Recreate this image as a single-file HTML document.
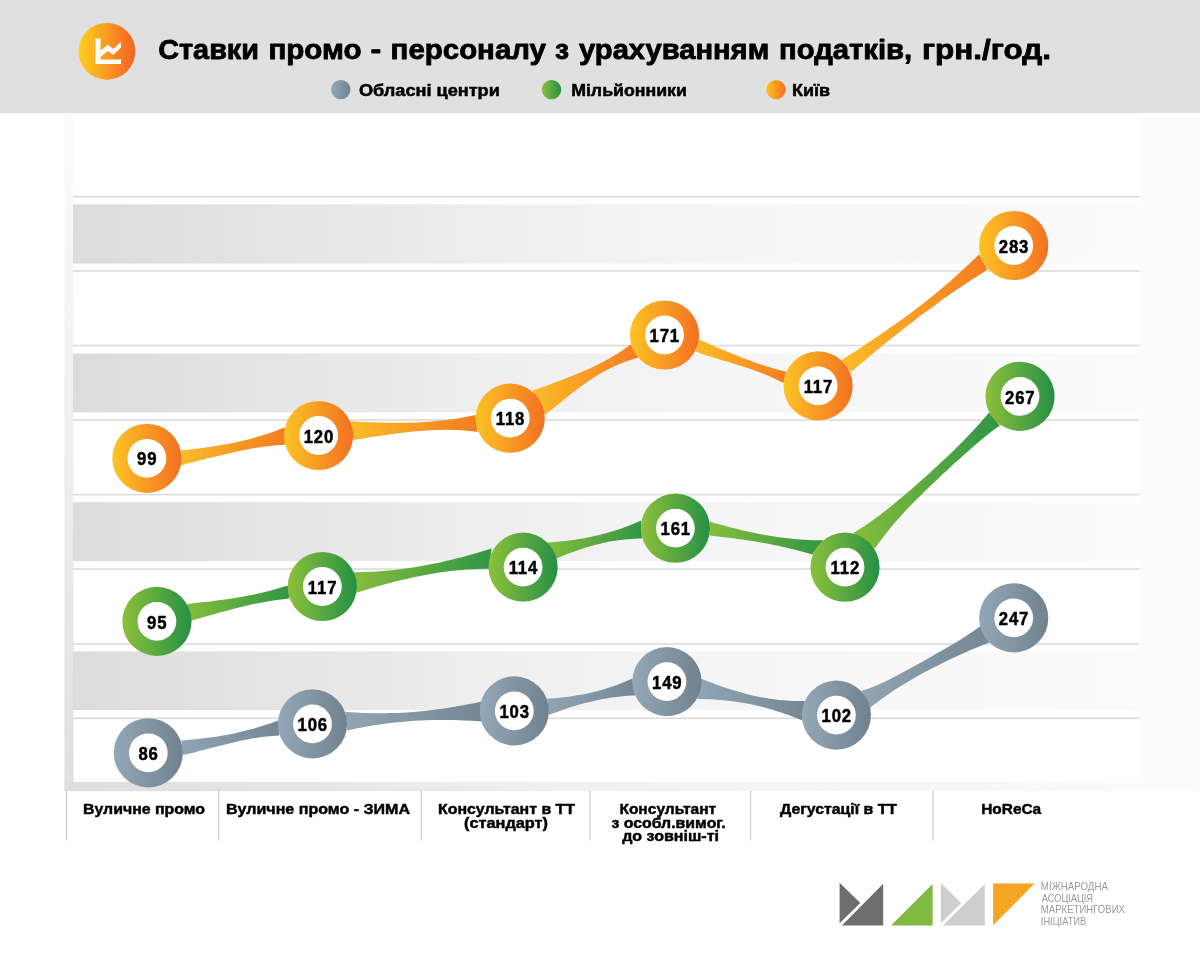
<!DOCTYPE html>
<html lang="uk"><head><meta charset="utf-8"><title>Ставки промо-персоналу</title>
<style>html,body{margin:0;padding:0;background:#fff;overflow:hidden}svg{display:block}text{font-family:"Liberation Sans",sans-serif}</style></head><body>
<svg width="1200" height="972" viewBox="0 0 1200 972">
<defs>
<linearGradient id="band" x1="0" x2="1" y1="0" y2="0"><stop offset="0" stop-color="#dcdcdc"/><stop offset="0.2" stop-color="#e5e5e5"/><stop offset="0.4" stop-color="#efefef"/><stop offset="0.6" stop-color="#f5f5f5"/><stop offset="0.8" stop-color="#f8f8f8"/><stop offset="1" stop-color="#fbfbfb"/></linearGradient>
<linearGradient id="floor" x1="0" x2="1" y1="0" y2="0"><stop offset="0" stop-color="#dedede"/><stop offset="0.2" stop-color="#e6e6e6"/><stop offset="0.4" stop-color="#efefef"/><stop offset="0.6" stop-color="#f5f5f5"/><stop offset="1" stop-color="#fbfbfb"/></linearGradient>
<linearGradient id="lstrip" x1="0" x2="0" y1="0" y2="1"><stop offset="0" stop-color="#fcfcfc"/><stop offset="0.5" stop-color="#efefef"/><stop offset="1" stop-color="#dfdfdf"/></linearGradient>
<linearGradient id="icon" x1="0" x2="1" y1="0" y2="0"><stop offset="0" stop-color="#ffcf1f"/><stop offset="1" stop-color="#f26322"/></linearGradient>
<linearGradient id="co" x1="0" x2="1" y1="0" y2="0"><stop offset="0" stop-color="#fcc325"/><stop offset="1" stop-color="#f37021"/></linearGradient>
<linearGradient id="ro" x1="0" x2="1" y1="0" y2="0"><stop offset="0" stop-color="#fbbc28"/><stop offset="1" stop-color="#f47c20"/></linearGradient>
<linearGradient id="cg" x1="0" x2="1" y1="0" y2="0"><stop offset="0" stop-color="#8dc03b"/><stop offset="1" stop-color="#259045"/></linearGradient>
<linearGradient id="rg" x1="0" x2="1" y1="0" y2="0"><stop offset="0" stop-color="#86bd3c"/><stop offset="1" stop-color="#2f9645"/></linearGradient>
<linearGradient id="cy" x1="0" x2="1" y1="0" y2="0"><stop offset="0" stop-color="#93a7b6"/><stop offset="1" stop-color="#71828e"/></linearGradient>
<linearGradient id="ry" x1="0" x2="1" y1="0" y2="0"><stop offset="0" stop-color="#90a4b3"/><stop offset="1" stop-color="#758793"/></linearGradient>
</defs>
<rect x="0" y="0" width="1200" height="972" fill="#ffffff"/>
<rect x="0" y="0" width="1200" height="113" fill="#e0e0e0"/>
<rect x="1139.5" y="117" width="60.5" height="674" fill="#fbfbfb"/>
<rect x="64.5" y="113" width="9" height="678" fill="url(#lstrip)"/>
<rect x="73.0" y="204.3" width="1066.5" height="59.3" fill="url(#band)"/>
<rect x="73.0" y="353.5" width="1066.5" height="58.8" fill="url(#band)"/>
<rect x="73.0" y="502.2" width="1066.5" height="58.8" fill="url(#band)"/>
<rect x="73.0" y="651.4" width="1066.5" height="58.6" fill="url(#band)"/>
<rect x="73.0" y="196.00" width="1066.5" height="1.5" fill="#d9d9d9"/>
<rect x="73.0" y="270.25" width="1066.5" height="1.5" fill="#d9d9d9"/>
<rect x="73.0" y="344.75" width="1066.5" height="1.5" fill="#d9d9d9"/>
<rect x="73.0" y="419.25" width="1066.5" height="1.5" fill="#d9d9d9"/>
<rect x="73.0" y="493.85" width="1066.5" height="1.5" fill="#d9d9d9"/>
<rect x="73.0" y="568.25" width="1066.5" height="1.5" fill="#d9d9d9"/>
<rect x="73.0" y="643.25" width="1066.5" height="1.5" fill="#d9d9d9"/>
<rect x="73.0" y="717.55" width="1066.5" height="1.5" fill="#d9d9d9"/>
<rect x="64.5" y="782" width="1135.5" height="9.25" fill="url(#floor)"/>
<rect x="66.0" y="791" width="1" height="49.5" fill="#c6c6c6"/>
<rect x="218.25" y="791" width="1" height="49.5" fill="#c6c6c6"/>
<rect x="420.75" y="791" width="1" height="49.5" fill="#c6c6c6"/>
<rect x="589.5" y="791" width="1" height="49.5" fill="#c6c6c6"/>
<rect x="750.25" y="791" width="1" height="49.5" fill="#c6c6c6"/>
<rect x="932.5" y="791" width="1" height="49.5" fill="#c6c6c6"/>
<g fill="url(#ry)">
<path d="M181.4,740.5L185.4,740.2L189.5,739.8L193.5,739.5L197.6,739.1L201.6,738.6L205.6,738.1L209.7,737.6L213.7,737.0L217.7,736.4L221.8,735.7L225.8,735.0L229.9,734.2L233.9,733.4L237.9,732.5L242.0,731.6L246.0,730.6L250.0,729.5L254.1,728.4L258.1,727.3L262.1,726.0L266.2,724.8L270.2,723.4L274.3,722.0L278.3,720.5L279.4,735.6L275.4,735.8L271.4,736.0L267.3,736.4L263.3,736.8L259.3,737.4L255.3,738.0L251.3,738.6L247.3,739.4L243.2,740.2L239.2,741.0L235.2,741.9L231.2,742.9L227.2,743.9L223.2,744.9L219.1,745.9L215.1,746.9L211.1,748.0L207.1,749.0L203.1,750.1L199.1,751.1L195.1,752.2L191.0,753.2L187.0,754.2L183.0,755.1Z"/>
<path d="M345.3,711.7L351.0,712.2L356.6,712.6L362.3,712.9L367.9,713.1L373.6,713.2L379.2,713.3L384.9,713.3L390.5,713.1L396.2,713.0L401.8,712.7L407.5,712.4L413.1,711.9L418.8,711.5L424.5,710.9L430.1,710.3L435.8,709.6L441.4,708.8L447.1,708.0L452.7,707.1L458.4,706.1L464.0,705.1L469.7,704.0L475.3,702.9L481.0,701.7L481.6,721.6L476.0,721.1L470.4,720.7L464.8,720.4L459.2,720.2L453.6,720.0L448.0,719.9L442.4,719.9L436.8,719.9L431.2,720.0L425.6,720.2L420.0,720.4L414.5,720.8L408.9,721.2L403.3,721.7L397.7,722.2L392.1,722.8L386.5,723.5L380.9,724.3L375.3,725.1L369.7,726.0L364.1,727.0L358.5,728.1L352.9,729.2L347.3,730.4Z"/>
<path d="M547.0,698.8L550.6,698.5L554.1,698.3L557.7,697.9L561.2,697.6L564.8,697.1L568.4,696.7L571.9,696.2L575.5,695.6L579.1,695.0L582.6,694.4L586.2,693.7L589.8,692.9L593.3,692.1L596.9,691.2L600.4,690.2L604.0,689.2L607.6,688.1L611.1,687.0L614.7,685.7L618.2,684.4L621.8,683.1L625.4,681.6L628.9,680.1L632.5,678.5L635.0,695.5L631.4,695.6L627.8,695.8L624.2,696.1L620.7,696.5L617.1,696.9L613.5,697.3L609.9,697.8L606.3,698.4L602.8,699.1L599.2,699.8L595.6,700.5L592.0,701.4L588.4,702.2L584.8,703.1L581.2,704.1L577.7,705.1L574.1,706.2L570.5,707.3L566.9,708.5L563.3,709.7L559.8,711.0L556.2,712.3L552.6,713.6L549.0,715.0Z"/>
<path d="M700.8,678.6L705.1,680.3L709.4,682.0L713.8,683.6L718.1,685.2L722.4,686.7L726.8,688.2L731.1,689.5L735.4,690.8L739.7,692.1L744.0,693.3L748.4,694.4L752.7,695.4L757.0,696.4L761.4,697.2L765.7,698.0L770.0,698.7L774.3,699.3L778.6,699.9L783.0,700.3L787.3,700.6L791.6,700.9L796.0,701.0L800.3,701.1L804.6,701.0L802.3,720.6L797.9,718.8L793.5,717.0L789.2,715.3L784.8,713.8L780.4,712.3L776.0,710.9L771.7,709.5L767.3,708.3L762.9,707.1L758.5,706.1L754.2,705.1L749.8,704.1L745.4,703.3L741.0,702.6L736.7,701.9L732.3,701.3L727.9,700.7L723.5,700.3L719.2,699.9L714.8,699.6L710.4,699.3L706.0,699.2L701.7,699.0L697.3,699.0Z"/>
<path d="M861.7,690.8L866.6,689.3L871.6,687.5L876.5,685.5L881.4,683.3L886.3,680.9L891.3,678.5L896.2,675.9L901.1,673.3L906.1,670.6L911.0,667.9L915.9,665.2L920.9,662.4L925.8,659.7L930.7,656.9L935.6,654.1L940.6,651.3L945.5,648.5L950.4,645.6L955.4,642.7L960.3,639.7L965.2,636.5L970.1,633.3L975.1,629.9L980.0,626.2L989.2,642.5L984.2,644.4L979.3,646.4L974.4,648.5L969.4,650.6L964.5,652.7L959.5,654.9L954.6,657.2L949.6,659.5L944.6,661.9L939.7,664.4L934.8,666.9L929.8,669.5L924.9,672.1L919.9,674.8L915.0,677.6L910.0,680.5L905.0,683.4L900.1,686.5L895.1,689.6L890.2,692.9L885.2,696.4L880.3,699.9L875.4,703.6L870.4,707.5Z"/>
</g>
<circle cx="148.3" cy="752.8" r="34.6" fill="url(#cy)"/><circle cx="148.3" cy="752.8" r="19.4" fill="#fff"/>
<text transform="translate(148.6,759.9) scale(0.92,1)" text-anchor="middle" font-size="18.2" font-weight="bold" letter-spacing="0.9" fill="#000" stroke="#000" stroke-width="0.5" stroke-linejoin="round">86</text>
<circle cx="312.5" cy="723.9" r="34.6" fill="url(#cy)"/><circle cx="312.5" cy="723.9" r="19.4" fill="#fff"/>
<text transform="translate(312.8,731.0) scale(0.92,1)" text-anchor="middle" font-size="18.2" font-weight="bold" letter-spacing="0.9" fill="#000" stroke="#000" stroke-width="0.5" stroke-linejoin="round">106</text>
<circle cx="514.3" cy="710.9" r="34.6" fill="url(#cy)"/><circle cx="514.3" cy="710.9" r="19.4" fill="#fff"/>
<text transform="translate(514.6,718.0) scale(0.92,1)" text-anchor="middle" font-size="18.2" font-weight="bold" letter-spacing="0.9" fill="#000" stroke="#000" stroke-width="0.5" stroke-linejoin="round">103</text>
<circle cx="666.9" cy="681.6" r="34.6" fill="url(#cy)"/><circle cx="666.9" cy="681.6" r="19.4" fill="#fff"/>
<text transform="translate(667.2,688.7) scale(0.92,1)" text-anchor="middle" font-size="18.2" font-weight="bold" letter-spacing="0.9" fill="#000" stroke="#000" stroke-width="0.5" stroke-linejoin="round">149</text>
<circle cx="836.4" cy="715.1" r="34.6" fill="url(#cy)"/><circle cx="836.4" cy="715.1" r="19.4" fill="#fff"/>
<text transform="translate(836.7,722.2) scale(0.92,1)" text-anchor="middle" font-size="18.2" font-weight="bold" letter-spacing="0.9" fill="#000" stroke="#000" stroke-width="0.5" stroke-linejoin="round">102</text>
<circle cx="1013.7" cy="617.9" r="34.6" fill="url(#cy)"/><circle cx="1013.7" cy="617.9" r="19.4" fill="#fff"/>
<text transform="translate(1014.0,625.0) scale(0.92,1)" text-anchor="middle" font-size="18.2" font-weight="bold" letter-spacing="0.9" fill="#000" stroke="#000" stroke-width="0.5" stroke-linejoin="round">247</text>
<g fill="url(#rg)">
<path d="M187.0,603.9L191.2,603.5L195.4,603.0L199.6,602.6L203.8,602.1L208.0,601.7L212.2,601.2L216.4,600.6L220.6,600.1L224.8,599.5L229.0,598.9L233.2,598.3L237.4,597.6L241.6,596.9L245.8,596.1L250.0,595.3L254.2,594.4L258.4,593.5L262.6,592.5L266.8,591.5L271.0,590.4L275.2,589.3L279.4,588.1L283.6,586.8L287.8,585.5L289.4,598.5L285.3,598.9L281.2,599.4L277.1,599.9L273.0,600.5L268.9,601.2L264.8,601.9L260.6,602.7L256.5,603.5L252.4,604.3L248.3,605.3L244.2,606.2L240.1,607.2L236.0,608.2L231.9,609.3L227.8,610.4L223.7,611.5L219.6,612.6L215.4,613.7L211.3,614.9L207.2,616.0L203.1,617.2L199.0,618.4L194.9,619.5L190.8,620.7Z"/>
<path d="M354.0,572.3L359.7,572.2L365.5,572.0L371.2,571.8L376.9,571.4L382.7,571.0L388.4,570.5L394.1,569.9L399.9,569.2L405.6,568.5L411.3,567.7L417.1,566.8L422.8,565.8L428.5,564.7L434.3,563.6L440.0,562.4L445.7,561.1L451.5,559.8L457.2,558.3L462.9,556.9L468.7,555.3L474.4,553.7L480.1,552.0L485.9,550.2L491.6,548.4L489.0,568.7L483.5,568.8L478.0,568.9L472.4,569.2L466.9,569.5L461.4,570.0L455.9,570.5L450.4,571.1L444.9,571.8L439.4,572.6L433.8,573.5L428.3,574.4L422.8,575.5L417.3,576.5L411.8,577.7L406.2,578.9L400.7,580.2L395.2,581.6L389.7,583.0L384.2,584.5L378.7,586.0L373.2,587.6L367.6,589.3L362.1,591.0L356.6,592.7Z"/>
<path d="M547.5,542.5L551.4,542.2L555.3,541.9L559.2,541.6L563.1,541.2L567.0,540.7L570.9,540.3L574.8,539.7L578.7,539.1L582.6,538.5L586.5,537.7L590.4,537.0L594.2,536.1L598.1,535.2L602.0,534.3L605.9,533.2L609.8,532.1L613.7,530.9L617.6,529.7L621.5,528.4L625.4,526.9L629.3,525.5L633.2,523.9L637.1,522.2L641.0,520.5L642.0,538.5L638.4,538.6L634.9,538.7L631.3,538.9L627.8,539.2L624.2,539.5L620.6,539.9L617.1,540.4L613.5,541.0L609.9,541.6L606.4,542.3L602.8,543.1L599.2,543.9L595.7,544.8L592.1,545.8L588.6,546.8L585.0,547.8L581.4,549.0L577.9,550.2L574.3,551.4L570.8,552.7L567.2,554.1L563.6,555.5L560.1,557.0L556.5,558.5Z"/>
<path d="M709.6,521.6L714.3,523.0L719.1,524.3L723.8,525.6L728.6,526.9L733.3,528.1L738.0,529.3L742.8,530.4L747.5,531.5L752.3,532.5L757.0,533.5L761.8,534.4L766.5,535.3L771.2,536.1L776.0,536.8L780.7,537.5L785.5,538.1L790.2,538.6L795.0,539.1L799.7,539.5L804.4,539.8L809.2,540.1L813.9,540.2L818.7,540.3L823.4,540.3L812.3,554.6L808.0,553.3L803.7,552.1L799.5,550.9L795.2,549.8L790.9,548.7L786.6,547.7L782.3,546.7L778.1,545.8L773.8,544.9L769.5,544.1L765.2,543.3L761.0,542.5L756.7,541.8L752.4,541.1L748.1,540.4L743.8,539.8L739.6,539.2L735.3,538.6L731.0,538.0L726.7,537.5L722.4,537.0L718.2,536.5L713.9,536.0L709.6,535.6Z"/>
<path d="M853.3,532.9L859.0,529.6L864.6,525.9L870.3,522.0L875.9,518.0L881.6,513.7L887.3,509.3L892.9,504.7L898.6,500.0L904.3,495.3L909.9,490.4L915.6,485.5L921.2,480.5L926.9,475.4L932.6,470.3L938.2,465.0L943.9,459.7L949.6,454.4L955.2,448.9L960.9,443.2L966.6,437.5L972.2,431.6L977.9,425.4L983.5,419.1L989.2,412.5L1000.0,425.4L994.8,429.1L989.6,433.0L984.4,437.2L979.2,441.5L974.0,446.0L968.8,450.5L963.5,455.2L958.3,459.9L953.1,464.6L947.9,469.4L942.7,474.3L937.5,479.2L932.3,484.1L927.1,489.1L921.9,494.2L916.7,499.3L911.5,504.6L906.2,510.1L901.0,515.7L895.8,521.6L890.6,527.7L885.4,534.2L880.2,541.0L875.0,548.3Z"/>
</g>
<circle cx="156.9" cy="621.4" r="34.6" fill="url(#cg)"/><circle cx="156.9" cy="621.4" r="19.4" fill="#fff"/>
<text transform="translate(157.2,628.5) scale(0.92,1)" text-anchor="middle" font-size="18.2" font-weight="bold" letter-spacing="0.9" fill="#000" stroke="#000" stroke-width="0.5" stroke-linejoin="round">95</text>
<circle cx="322.3" cy="586.5" r="34.6" fill="url(#cg)"/><circle cx="322.3" cy="586.5" r="19.4" fill="#fff"/>
<text transform="translate(322.6,593.6) scale(0.92,1)" text-anchor="middle" font-size="18.2" font-weight="bold" letter-spacing="0.9" fill="#000" stroke="#000" stroke-width="0.5" stroke-linejoin="round">117</text>
<circle cx="523.1" cy="567.1" r="34.6" fill="url(#cg)"/><circle cx="523.1" cy="567.1" r="19.4" fill="#fff"/>
<text transform="translate(523.4,574.2) scale(0.92,1)" text-anchor="middle" font-size="18.2" font-weight="bold" letter-spacing="0.9" fill="#000" stroke="#000" stroke-width="0.5" stroke-linejoin="round">114</text>
<circle cx="675.4" cy="528.2" r="34.6" fill="url(#cg)"/><circle cx="675.4" cy="528.2" r="19.4" fill="#fff"/>
<text transform="translate(675.7,535.3) scale(0.92,1)" text-anchor="middle" font-size="18.2" font-weight="bold" letter-spacing="0.9" fill="#000" stroke="#000" stroke-width="0.5" stroke-linejoin="round">161</text>
<circle cx="845.0" cy="567.2" r="34.6" fill="url(#cg)"/><circle cx="845.0" cy="567.2" r="19.4" fill="#fff"/>
<text transform="translate(845.3,574.3) scale(0.92,1)" text-anchor="middle" font-size="18.2" font-weight="bold" letter-spacing="0.9" fill="#000" stroke="#000" stroke-width="0.5" stroke-linejoin="round">112</text>
<circle cx="1020.0" cy="396.4" r="34.6" fill="url(#cg)"/><circle cx="1020.0" cy="396.4" r="19.4" fill="#fff"/>
<text transform="translate(1020.3,403.5) scale(0.92,1)" text-anchor="middle" font-size="18.2" font-weight="bold" letter-spacing="0.9" fill="#000" stroke="#000" stroke-width="0.5" stroke-linejoin="round">267</text>
<g fill="url(#ro)">
<path d="M180.8,450.6L185.1,450.1L189.5,449.6L193.8,449.0L198.1,448.5L202.5,447.9L206.8,447.3L211.1,446.7L215.5,446.0L219.8,445.3L224.1,444.5L228.5,443.7L232.8,442.9L237.1,442.0L241.5,441.0L245.8,440.0L250.1,438.9L254.5,437.8L258.8,436.5L263.1,435.2L267.5,433.8L271.8,432.3L276.1,430.7L280.5,429.1L284.8,427.3L284.8,444.7L280.5,445.0L276.1,445.3L271.8,445.7L267.5,446.2L263.1,446.8L258.8,447.4L254.5,448.1L250.1,448.9L245.8,449.7L241.5,450.5L237.1,451.4L232.8,452.4L228.5,453.4L224.1,454.4L219.8,455.4L215.5,456.4L211.1,457.5L206.8,458.6L202.5,459.7L198.1,460.8L193.8,462.0L189.5,463.1L185.1,464.2L180.8,465.3Z"/>
<path d="M350.6,421.0L355.8,421.4L361.0,421.7L366.2,422.0L371.4,422.2L376.6,422.4L381.9,422.6L387.1,422.7L392.3,422.8L397.5,422.8L402.7,422.8L407.9,422.7L413.1,422.6L418.3,422.4L423.5,422.1L428.7,421.7L433.9,421.3L439.1,420.8L444.4,420.3L449.6,419.6L454.8,418.9L460.0,418.0L465.2,417.1L470.4,416.1L475.6,415.0L477.5,431.9L472.3,431.3L467.1,430.7L461.9,430.3L456.8,430.1L451.6,429.9L446.4,429.8L441.2,429.9L436.0,430.0L430.9,430.2L425.7,430.5L420.5,430.9L415.3,431.3L410.1,431.8L404.9,432.4L399.8,433.0L394.6,433.7L389.4,434.4L384.2,435.2L379.0,435.9L373.8,436.7L368.7,437.5L363.5,438.4L358.3,439.2L353.1,440.0Z"/>
<path d="M532.1,390.8L536.2,389.3L540.3,387.8L544.4,386.4L548.5,384.9L552.7,383.3L556.8,381.8L560.9,380.3L565.0,378.7L569.1,377.1L573.2,375.5L577.3,373.8L581.5,372.1L585.6,370.3L589.7,368.5L593.8,366.6L597.9,364.6L602.0,362.5L606.1,360.3L610.2,358.0L614.3,355.6L618.5,353.0L622.6,350.2L626.7,347.3L630.8,344.2L638.3,357.5L634.4,358.7L630.5,359.9L626.6,361.3L622.7,362.7L618.8,364.3L614.9,366.0L611.0,367.9L607.1,369.8L603.2,371.9L599.3,374.2L595.4,376.6L591.5,379.1L587.5,381.7L583.6,384.5L579.7,387.3L575.8,390.3L571.9,393.3L568.0,396.4L564.1,399.6L560.2,402.7L556.3,405.9L552.4,409.0L548.5,412.0L544.6,415.0Z"/>
<path d="M699.0,339.3L702.6,341.0L706.3,342.6L709.9,344.3L713.5,345.9L717.2,347.5L720.8,349.0L724.4,350.6L728.1,352.1L731.7,353.6L735.3,355.1L739.0,356.5L742.6,357.9L746.2,359.3L749.9,360.6L753.5,361.9L757.1,363.2L760.8,364.4L764.4,365.6L768.0,366.7L771.7,367.8L775.3,368.9L778.9,369.9L782.6,370.9L786.2,371.8L783.5,383.1L779.8,381.2L776.2,379.4L772.5,377.7L768.9,376.1L765.2,374.5L761.5,373.1L757.9,371.7L754.2,370.3L750.6,369.1L746.9,367.8L743.3,366.6L739.6,365.5L735.9,364.3L732.3,363.2L728.6,362.1L725.0,361.0L721.3,359.9L717.7,358.8L714.0,357.7L710.3,356.6L706.7,355.4L703.0,354.2L699.4,353.0L695.7,351.7Z"/>
<path d="M841.7,360.0L847.4,356.3L853.2,352.6L858.9,348.9L864.6,345.1L870.3,341.3L876.1,337.5L881.8,333.6L887.5,329.6L893.3,325.6L899.0,321.5L904.7,317.4L910.5,313.2L916.2,308.8L921.9,304.4L927.6,299.9L933.4,295.3L939.1,290.6L944.8,285.8L950.6,280.9L956.3,275.8L962.0,270.6L967.7,265.3L973.5,259.8L979.2,254.2L987.5,269.6L981.8,273.2L976.1,276.9L970.4,280.6L964.7,284.4L959.0,288.2L953.3,292.1L947.6,296.1L941.9,300.1L936.2,304.2L930.5,308.4L924.8,312.6L919.1,316.8L913.5,321.2L907.8,325.5L902.1,330.0L896.4,334.5L890.7,339.0L885.0,343.6L879.3,348.3L873.6,353.0L867.9,357.7L862.2,362.5L856.5,367.3L850.8,372.1Z"/>
</g>
<circle cx="146.9" cy="458.3" r="34.6" fill="url(#co)"/><circle cx="146.9" cy="458.3" r="19.4" fill="#fff"/>
<text transform="translate(147.2,465.4) scale(0.92,1)" text-anchor="middle" font-size="18.2" font-weight="bold" letter-spacing="0.9" fill="#000" stroke="#000" stroke-width="0.5" stroke-linejoin="round">99</text>
<circle cx="318.6" cy="435.5" r="34.6" fill="url(#co)"/><circle cx="318.6" cy="435.5" r="19.4" fill="#fff"/>
<text transform="translate(318.9,442.6) scale(0.92,1)" text-anchor="middle" font-size="18.2" font-weight="bold" letter-spacing="0.9" fill="#000" stroke="#000" stroke-width="0.5" stroke-linejoin="round">120</text>
<circle cx="510.2" cy="418.2" r="34.6" fill="url(#co)"/><circle cx="510.2" cy="418.2" r="19.4" fill="#fff"/>
<text transform="translate(510.5,425.3) scale(0.92,1)" text-anchor="middle" font-size="18.2" font-weight="bold" letter-spacing="0.9" fill="#000" stroke="#000" stroke-width="0.5" stroke-linejoin="round">118</text>
<circle cx="664.5" cy="335.0" r="34.6" fill="url(#co)"/><circle cx="664.5" cy="335.0" r="19.4" fill="#fff"/>
<text transform="translate(664.8,342.1) scale(0.92,1)" text-anchor="middle" font-size="18.2" font-weight="bold" letter-spacing="0.9" fill="#000" stroke="#000" stroke-width="0.5" stroke-linejoin="round">171</text>
<circle cx="818.1" cy="385.9" r="34.6" fill="url(#co)"/><circle cx="818.1" cy="385.9" r="19.4" fill="#fff"/>
<text transform="translate(818.4,393.0) scale(0.92,1)" text-anchor="middle" font-size="18.2" font-weight="bold" letter-spacing="0.9" fill="#000" stroke="#000" stroke-width="0.5" stroke-linejoin="round">117</text>
<circle cx="1013.7" cy="245.5" r="34.6" fill="url(#co)"/><circle cx="1013.7" cy="245.5" r="19.4" fill="#fff"/>
<text transform="translate(1014.0,252.6) scale(0.92,1)" text-anchor="middle" font-size="18.2" font-weight="bold" letter-spacing="0.9" fill="#000" stroke="#000" stroke-width="0.5" stroke-linejoin="round">283</text>
<circle cx="106.9" cy="51.3" r="28.4" fill="url(#icon)"/>
<path d="M95.5,38.5H100.5V59.6H121.1V64H95.5Z" fill="#fff"/>
<path d="M100.5,50.5L107.8,44.7L113.2,49L120.9,42V47.8L113.2,54.7L107.8,50.9L100.5,57Z" fill="#fff"/>
<circle cx="340.8" cy="89.6" r="9.7" fill="url(#cy)"/>
<circle cx="551.5" cy="89.6" r="9.7" fill="url(#cg)"/>
<circle cx="776.0" cy="89.6" r="9.7" fill="url(#co)"/>
<text font-size="27.5" font-weight="bold" fill="#000" stroke="#000" stroke-width="0.8" stroke-linejoin="round"><tspan x="158.20" y="59" textLength="100.82" lengthAdjust="spacingAndGlyphs">Ставки</tspan> <tspan x="268.40" y="59" textLength="93.25" lengthAdjust="spacingAndGlyphs">промо</tspan> <tspan x="370.60" y="59" textLength="10.71" lengthAdjust="spacingAndGlyphs">-</tspan> <tspan x="390.60" y="59" textLength="155.40" lengthAdjust="spacingAndGlyphs">персоналу</tspan> <tspan x="555.00" y="59" textLength="14.04" lengthAdjust="spacingAndGlyphs">з</tspan> <tspan x="579.00" y="59" textLength="190.21" lengthAdjust="spacingAndGlyphs">урахуванням</tspan> <tspan x="779.00" y="59" textLength="133.24" lengthAdjust="spacingAndGlyphs">податків,</tspan> <tspan x="922.00" y="59" textLength="129.03" lengthAdjust="spacingAndGlyphs">грн./год.</tspan></text>
<text font-size="16" font-weight="bold" fill="#000" stroke="#000" stroke-width="0.5" stroke-linejoin="round"><tspan x="359.00" y="95.8" textLength="140.81" lengthAdjust="spacingAndGlyphs">Обласні центри</tspan></text>
<text font-size="16" font-weight="bold" fill="#000" stroke="#000" stroke-width="0.5" stroke-linejoin="round"><tspan x="571.20" y="95.8" textLength="115.61" lengthAdjust="spacingAndGlyphs">Мільйонники</tspan></text>
<text font-size="16" font-weight="bold" fill="#000" stroke="#000" stroke-width="0.5" stroke-linejoin="round"><tspan x="792.00" y="95.8" textLength="38.01" lengthAdjust="spacingAndGlyphs">Київ</tspan></text>
<text font-size="14.4" font-weight="bold" fill="#000" stroke="#000" stroke-width="0.45" stroke-linejoin="round"><tspan x="83.00" y="814" textLength="122.00" lengthAdjust="spacingAndGlyphs">Вуличне промо</tspan></text>
<text font-size="14.4" font-weight="bold" fill="#000" stroke="#000" stroke-width="0.45" stroke-linejoin="round"><tspan x="226.00" y="814" textLength="184.00" lengthAdjust="spacingAndGlyphs">Вуличне промо - ЗИМА</tspan></text>
<text font-size="14.4" font-weight="bold" fill="#000" stroke="#000" stroke-width="0.45" stroke-linejoin="round"><tspan x="438.00" y="814" textLength="137.00" lengthAdjust="spacingAndGlyphs">Консультант в ТТ</tspan> <tspan x="464.00" y="827.5" textLength="84.01" lengthAdjust="spacingAndGlyphs">(стандарт)</tspan></text>
<text font-size="14.4" font-weight="bold" fill="#000" stroke="#000" stroke-width="0.45" stroke-linejoin="round"><tspan x="619.40" y="814" textLength="96.80" lengthAdjust="spacingAndGlyphs">Консультант</tspan> <tspan x="611.40" y="827.5" textLength="114.40" lengthAdjust="spacingAndGlyphs">з особл.вимог.</tspan> <tspan x="622.20" y="840.5" textLength="96.80" lengthAdjust="spacingAndGlyphs">до зовніш-ті</tspan></text>
<text font-size="14.4" font-weight="bold" fill="#000" stroke="#000" stroke-width="0.45" stroke-linejoin="round"><tspan x="780.00" y="814" textLength="117.01" lengthAdjust="spacingAndGlyphs">Дегустації в ТТ</tspan></text>
<text font-size="14.4" font-weight="bold" fill="#000" stroke="#000" stroke-width="0.45" stroke-linejoin="round"><tspan x="981.20" y="814" textLength="60.01" lengthAdjust="spacingAndGlyphs">HoReCa</tspan></text>
<text font-size="10.2" font-weight="normal" fill="#9a9a9a"><tspan x="1040.80" y="890.1" textLength="67.22" lengthAdjust="spacingAndGlyphs">МІЖНАРОДНА</tspan> <tspan x="1041.80" y="901.6" textLength="51.20" lengthAdjust="spacingAndGlyphs">АСОЦІАЦІЯ</tspan> <tspan x="1040.80" y="913.1" textLength="84.21" lengthAdjust="spacingAndGlyphs">МАРКЕТИНГОВИХ</tspan> <tspan x="1040.80" y="924.5" textLength="45.42" lengthAdjust="spacingAndGlyphs">ІНІЦІАТИВ</tspan></text>
<g>
<path d="M839.6,882.8L860.3,903L839.6,923.2Z M883.2,883.7V925.5H841.9Z" fill="#6f6e6d"/>
<path d="M932.6,884V925.5H891Z" fill="#7fba42"/>
<path d="M941,883.1L961.2,903L941,923.2Z M984.8,884V925.5H942.8Z" fill="#cdcfce"/>
<path d="M993.1,883.4H1034.6L993.1,925.3Z" fill="#f6a522"/>
</g>
</svg></body></html>
